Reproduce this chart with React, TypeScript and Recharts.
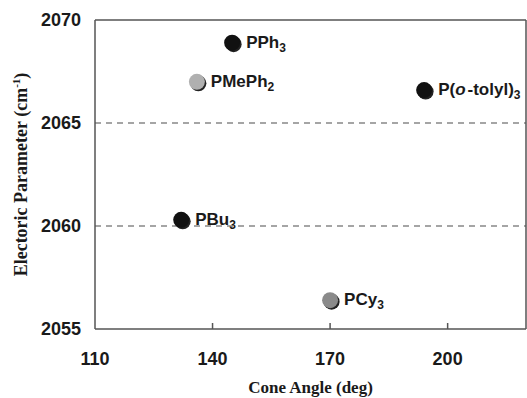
import React from "react"
import {
    ScatterChart,
    Scatter,
    XAxis,
    YAxis,
    ReferenceLine,
    Label,
} from "recharts"

// values
const ligands = ["PPh3", "PMePh2", "P(o-tolyl)3", "PBu3", "PCy3"]
const coneAngles = [145, 136, 194, 132, 170]
const electronicParams = [2068.9, 2067.0, 2066.6, 2060.3, 2056.4]
const xTicks = [110, 140, 170, 200]
const yTicks = [2055, 2060, 2065, 2070]

const markerFill: Record<string, string> = {
    "PPh3": "#111111",
    "PMePh2": "#b0b0b0",
    "P(o-tolyl)3": "#111111",
    "PBu3": "#111111",
    "PCy3": "#8a8a8a",
}

const data = ligands.map((name, i) => ({
    name,
    x: coneAngles[i],
    y: electronicParams[i],
}))

const sans = "'Liberation Sans', Arial, sans-serif"
const serif = "'Liberation Serif', 'Times New Roman', serif"
const frame = "#555"

// digits become subscripts, "o" before "-" is italic
function LigandName({ name }: { name: string }) {
    const parts = name.match(/o-|\d+|[^\do]+|o/g) || []
    let shifted = false
    return (
        <>
            {parts.map((p, i) => {
                if (/^\d+$/.test(p)) {
                    shifted = true
                    return <tspan key={i} dy={4} fontSize={12}>{p}</tspan>
                }
                const dy = shifted ? -4 : 0
                shifted = false
                if (p === "o-") {
                    return (
                        <React.Fragment key={i}>
                            <tspan dy={dy} fontStyle="italic">o</tspan>
                            <tspan dx={2}>-</tspan>
                        </React.Fragment>
                    )
                }
                return <tspan key={i} dy={dy}>{p}</tspan>
            })}
        </>
    )
}

const Marker = (props: any) => {
    const { cx, cy, payload } = props
    return (
        <g>
            <circle cx={cx + 1.5} cy={cy + 1.5} r={8} fill="#222" />
            <circle cx={cx} cy={cy} r={8} fill={markerFill[payload.name]} />
            <text
                x={cx + 14}
                y={cy + 5}
                fontFamily={sans}
                fontWeight="bold"
                fontSize={17}
                fill="#1a1a1a"
            >
                <LigandName name={payload.name} />
            </text>
        </g>
    )
}

const XTick = (props: any) => {
    const { x, y, payload } = props
    return (
        <g>
            {payload.value !== 110 && (
                <line x1={x} y1={y} x2={x} y2={y - 6} stroke={frame} strokeWidth={1.5} />
            )}
            <text
                x={x}
                y={y + 36}
                textAnchor="middle"
                fontFamily={sans}
                fontWeight="bold"
                fontSize={18}
                fill="#1a1a1a"
            >
                {payload.value}
            </text>
        </g>
    )
}

export default function App() {
    return (
        <div style={{ position: "absolute", left: 0, top: 0, background: "#fff" }}>
            <ScatterChart
                width={527}
                height={398}
                margin={{ top: 20, right: 1, bottom: 0, left: 0 }}
            >
                <XAxis
                    type="number"
                    dataKey="x"
                    domain={[110, 220]}
                    ticks={xTicks}
                    height={69}
                    tickSize={0}
                    tickMargin={0}
                    tickLine={false}
                    tick={<XTick />}
                    axisLine={{ stroke: frame, strokeWidth: 1.5 }}
                >
                    <Label
                        content={({ viewBox }: any) => (
                            <text
                                x={viewBox.x + viewBox.width / 2}
                                y={393}
                                textAnchor="middle"
                                fontFamily={serif}
                                fontWeight="bold"
                                fontSize={17}
                                fill="#1a1a1a"
                            >
                                Cone Angle (deg)
                            </text>
                        )}
                    />
                </XAxis>
                <YAxis
                    type="number"
                    dataKey="y"
                    domain={[2055, 2070]}
                    ticks={yTicks}
                    width={95}
                    tickSize={0}
                    tickMargin={14}
                    tickLine={false}
                    tick={{ fontFamily: sans, fontWeight: "bold", fontSize: 18, fill: "#1a1a1a" }}
                    axisLine={{ stroke: frame, strokeWidth: 1.5 }}
                >
                    <Label
                        content={({ viewBox }: any) => {
                            const cx = 27
                            const cy = viewBox.y + viewBox.height / 2
                            return (
                                <text
                                    x={cx}
                                    y={cy}
                                    transform={`rotate(-90 ${cx} ${cy})`}
                                    textAnchor="middle"
                                    fontFamily={serif}
                                    fontWeight="bold"
                                    fontSize={18}
                                    fill="#1a1a1a"
                                >
                                    Electoric Parameter (cm
                                    <tspan dy={-7} fontSize={11}>-1</tspan>
                                    <tspan dy={7}>)</tspan>
                                </text>
                            )
                        }}
                    />
                </YAxis>
                <ReferenceLine y={2060} stroke="#888" strokeWidth={1.5} strokeDasharray="6 5" />
                <ReferenceLine y={2065} stroke="#888" strokeWidth={1.5} strokeDasharray="6 5" />
                <ReferenceLine y={2070} stroke={frame} strokeWidth={1.5} />
                <ReferenceLine x={220} stroke={frame} strokeWidth={1.5} />
                <Scatter data={data} shape={<Marker />} isAnimationActive={false} />
            </ScatterChart>
        </div>
    )
}
